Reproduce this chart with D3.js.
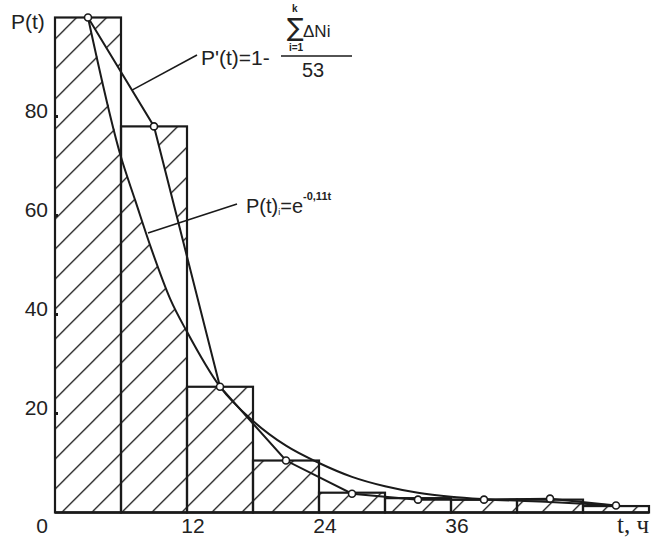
<!DOCTYPE html>
<html lang="ru">
	<head>
		<meta charset="utf-8">
		<title>P(t)</title>
		<script type="text/javascript" src="https://cdn.jsdelivr.net/npm/d3@7"></script>
		<style type="text/css">
			body { margin: 0; background: #fff; }
			text { font-family: "Liberation Sans", Arial, sans-serif; fill: #222; }
		</style>
	</head>
	<body>
		<script type="text/javascript">
			var w = 657;
			var h = 540;

			// histogram: hours, bar heights
			var binEdges = [0, 6, 12, 18, 24, 30, 36, 42, 48, 54];
			var barValues = [100, 78, 25.4, 10.5, 4.0, 2.9, 2.6, 2.6, 1.3];

			// P'(t) points at bin middles
			var pointT = [3, 9, 15, 21, 27, 33, 39, 45, 51];
			var pointP = [100, 78, 25.4, 10.5, 3.8, 2.6, 2.6, 2.8, 1.4];

			// smooth curve P(t)
			var curveT = [3, 6, 7.3, 8.8, 10.5, 12, 15, 18, 21, 24, 27, 30, 33, 36, 39, 45, 51];
			var curveP = [100, 71.8, 63, 53, 43, 36.5, 25.4, 18.5, 13.5, 10, 7.2, 5.3, 4.0, 3.2, 2.7, 2.1, 1.4];

			var xTicks = [0, 12, 24, 36];
			var yTicks = [20, 40, 60, 80];

			var xScale = d3.scaleLinear()
							.domain([0, 54])
							.range([55, 649]);
			var yScale = d3.scaleLinear()
							.domain([0, 100])
							.range([512.5, 17.5]);

			var ink = "#1a1a1a";

			var svg = d3.select("body")
							.append("svg")
							.attr("width", w)
							.attr("height", h);

			//hatch pattern
			var pat = svg.append("defs")
							.append("pattern")
							.attr("id", "hatch")
							.attr("patternUnits", "userSpaceOnUse")
							.attr("x", 4.2)
							.attr("y", 0)
							.attr("width", 30)
							.attr("height", 30);
			pat.append("path")
				.attr("d", "M-2,32 L32,-2 M-2,2 L2,-2 M28,32 L32,28")
				.attr("stroke", ink)
				.attr("stroke-width", 1.3);

			var barX = function(d, i) { return xScale(binEdges[i]); };
			var barW = function(d, i) { return xScale(binEdges[i + 1]) - xScale(binEdges[i]); };

			//hatched fill of the bars
			svg.selectAll("rect.fill")
				.data(barValues)
				.enter()
				.append("rect")
				.attr("class", "fill")
				.attr("x", barX)
				.attr("y", function(d) { return yScale(d); })
				.attr("width", barW)
				.attr("height", function(d) { return yScale(0) - yScale(d); })
				.attr("fill", "url(#hatch)");

			//the gap between polyline and curve stays unhatched
			var gap = [];
			pointT.forEach(function(t, i) { if (t <= 15) gap.push([t, pointP[i]]); });
			for (var j = curveT.length - 1; j >= 0; j--) {
				if (curveT[j] <= 15) gap.push([curveT[j], curveP[j]]);
			}
			svg.append("path")
				.attr("d", d3.line()
					.x(function(d) { return xScale(d[0]); })
					.y(function(d) { return yScale(d[1]); })(gap) + "Z")
				.attr("fill", "#fff");

			//bar outlines
			svg.selectAll("rect.bar")
				.data(barValues)
				.enter()
				.append("rect")
				.attr("class", "bar")
				.attr("x", barX)
				.attr("y", function(d) { return yScale(d); })
				.attr("width", barW)
				.attr("height", function(d) { return yScale(0) - yScale(d); })
				.attr("fill", "none")
				.attr("stroke", ink)
				.attr("stroke-width", 2.2);

			//baseline
			svg.append("line")
				.attr("x1", xScale(0))
				.attr("x2", xScale(54))
				.attr("y1", yScale(0))
				.attr("y2", yScale(0))
				.attr("stroke", ink)
				.attr("stroke-width", 2.4);

			//y ticks
			svg.selectAll("line.ytick")
				.data(yTicks)
				.enter()
				.append("line")
				.attr("class", "ytick")
				.attr("x1", xScale(0))
				.attr("x2", xScale(0) + 3)
				.attr("y1", function(d) { return yScale(d); })
				.attr("y2", function(d) { return yScale(d); })
				.attr("stroke", ink)
				.attr("stroke-width", 3);

			svg.selectAll("text.ylab")
				.data(yTicks)
				.enter()
				.append("text")
				.attr("class", "ylab")
				.text(function(d) { return d; })
				.attr("x", xScale(0) - 7)
				.attr("y", function(d) { return yScale(d) + 1; })
				.attr("text-anchor", "end")
				.attr("font-size", "21px");

			svg.selectAll("text.xlab")
				.data(xTicks)
				.enter()
				.append("text")
				.attr("class", "xlab")
				.text(function(d) { return d; })
				.attr("x", function(d) { return d === 0 ? xScale(d) - 13 : xScale(d) + 6; })
				.attr("y", 533)
				.attr("text-anchor", "middle")
				.attr("font-size", "21px");

			svg.append("text")
				.text("P(t)")
				.attr("x", 11)
				.attr("y", 29)
				.attr("font-size", "21px");

			svg.append("text")
				.text("t, ч")
				.attr("x", 649)
				.attr("y", 533)
				.attr("text-anchor", "end")
				.style("font-family", "'Liberation Serif', serif")
				.attr("font-size", "25px");

			//smooth curve
			var curveLine = d3.line()
							.x(function(d, i) { return xScale(curveT[i]); })
							.y(function(d) { return yScale(d); })
							.curve(d3.curveMonotoneX);
			svg.append("path")
				.attr("d", curveLine(curveP))
				.attr("fill", "none")
				.attr("stroke", ink)
				.attr("stroke-width", 2);

			//polyline P'(t)
			var polyLine = d3.line()
							.x(function(d, i) { return xScale(pointT[i]); })
							.y(function(d) { return yScale(d); });
			svg.append("path")
				.attr("d", polyLine(pointP))
				.attr("fill", "none")
				.attr("stroke", ink)
				.attr("stroke-width", 2);

			svg.selectAll("circle")
				.data(pointP)
				.enter()
				.append("circle")
				.attr("cx", function(d, i) { return xScale(pointT[i]); })
				.attr("cy", function(d) { return yScale(d); })
				.attr("r", 3.5)
				.attr("fill", "#fff")
				.attr("stroke", ink)
				.attr("stroke-width", 1.6);

			//leader lines
			var t1 = 7, p1 = 100 + (78 - 100) * (t1 - 3) / 6;
			svg.append("line")
				.attr("x1", xScale(t1)).attr("y1", yScale(p1))
				.attr("x2", 197).attr("y2", 55)
				.attr("stroke", ink).attr("stroke-width", 1.6);
			svg.append("line")
				.attr("x1", 148).attr("y1", 233)
				.attr("x2", 237).attr("y2", 204)
				.attr("stroke", ink).attr("stroke-width", 1.6);

			//formula P'(t)
			svg.append("text")
				.text("P'(t)=1-")
				.attr("x", 201)
				.attr("y", 65)
				.attr("font-size", "21px");
			svg.append("text")
				.text("∑")
				.attr("x", 287)
				.attr("y", 36)
				.style("font-family", "'DejaVu Sans', sans-serif")
				.attr("font-size", "25px");
			svg.append("text")
				.text("k")
				.attr("x", 292)
				.attr("y", 12)
				.attr("font-weight", "bold")
				.attr("font-size", "10px");
			svg.append("text")
				.text("i=1")
				.attr("x", 289)
				.attr("y", 51)
				.attr("font-weight", "bold")
				.attr("font-size", "10px");
			svg.append("text")
				.text("ΔNi")
				.attr("x", 303)
				.attr("y", 37)
				.attr("font-size", "17px");
			svg.append("line")
				.attr("x1", 281).attr("x2", 352)
				.attr("y1", 56).attr("y2", 56)
				.attr("stroke", ink).attr("stroke-width", 1.4);
			svg.append("text")
				.text("53")
				.attr("x", 313)
				.attr("y", 77)
				.attr("text-anchor", "middle")
				.attr("font-size", "20px");

			//formula P(t)
			var f2 = svg.append("text")
				.attr("x", 246)
				.attr("y", 213)
				.attr("font-size", "20px");
			f2.append("tspan").text("P(t)");
			f2.append("tspan").text("i").attr("font-size", "9px").attr("dy", 2);
			f2.append("tspan").text("=e").attr("dy", -2);
			f2.append("tspan").text("-0,11t").attr("font-size", "11px").attr("font-weight", "bold").attr("dy", -13);
		</script>
	</body>
</html>
